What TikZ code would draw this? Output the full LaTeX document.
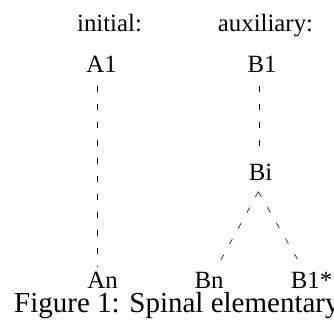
\documentclass[tikz,border=0pt]{standalone}
\usepackage{fontspec}
\setmainfont{Liberation Serif}
\begin{document}
\begin{tikzpicture}[x=1pt,y=-1pt,
  lbl/.style={anchor=base,inner sep=0pt,text depth=0pt,font=\fontsize{24.8}{28}\selectfont},
  captext/.style={anchor=base west,inner sep=0pt,text height=18pt,font=\fontsize{29}{34}\selectfont},
  dashline/.style={line width=0.6pt,dash pattern=on 6pt off 12pt}]
\useasboundingbox (0,0) rectangle (334,320);
\clip (0,0) rectangle (334,320);
\fill[white] (0,0) rectangle (334,320);
% headers
\node[lbl] (hinit) at (109.5,31.5) {initial:};
\node[lbl] (haux) at (265.5,31.5) {auxiliary:};
% nodes
\node[lbl] (A1) at (101.5,73) {A1};
\node[lbl] (B1) at (262,73) {B1};
\node[lbl] (Bi) at (260.5,181) {Bi};
\node[lbl] (An) at (102.5,288.5) {An};
\node[lbl] (Bn) at (209,288.5) {Bn};
\node[lbl] (B1s) at (311.5,288.5) {B1*};
% connector end points
\coordinate (a1b) at (97.5,86);
\coordinate (ant) at (97.5,267);
\coordinate (b1b) at (259.5,86);
\coordinate (bit) at (259.5,147);
\coordinate (bib) at (258.3,191.7);
\coordinate (bnt) at (217,267);
\coordinate (b1st) at (302,267);
\draw[dashline] (a1b) -- (ant);
\draw[dashline] (b1b) -- (bit);
\draw[dashline] (bib) -- (bnt);
\draw[dashline] (bib) -- (b1st);
% caption
\node[captext] (caption) at (14,312) {Figure 1: Spinal elementary};
\end{tikzpicture}
\end{document}
